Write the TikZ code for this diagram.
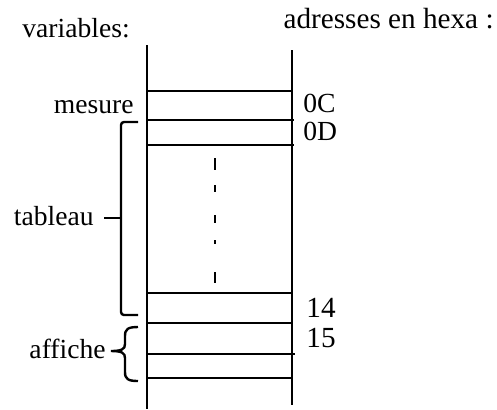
\documentclass[tikz,border=0pt]{standalone}
\usepackage{fontspec}
\setmainfont{Liberation Serif}
\begin{document}
\begin{tikzpicture}[x=0.5pt,y=-0.5pt,
  lbl/.style={inner sep=0pt,font=\fontsize{13.8}{16}\selectfont},
  biglbl/.style={inner sep=0pt,font=\fontsize{14.6}{17}\selectfont},
  wall/.style={line width=0.75pt},
  cell/.style={line width=0.75pt},
  brk/.style={line width=1.2pt},
  dots/.style={line width=0.75pt}]
\useasboundingbox (0,0) rectangle (497,409);
% titles
\node[lbl,anchor=base west] (vars) at (22,37) {variables:};
\node[biglbl,anchor=base east] (addr) at (494,28) {adresses en hexa :};
% memory column walls
\draw[wall] (147,45) -- (147,409);
\draw[wall] (292,50) -- (292,405);
% cell separators
\draw[cell] (147,91) -- (292,91);
\draw[cell] (147,120) -- (294,120);
\draw[cell] (147,145) -- (294,145);
\draw[cell] (147,293) -- (292,293);
\draw[cell] (147,323) -- (292,323);
\draw[cell] (147,354) -- (295,354);
\draw[cell] (147,378) -- (292,378);
% dashed ellipsis
\foreach \a/\b in {158/170,185/192,215/223,240/244,272/283}
  \draw[dots] (215,\a) -- (215,\b);
% labels
\node[lbl,anchor=base east] (mesure) at (134,113) {mesure};
\node[lbl,anchor=base west] (a0C) at (303,112) {0C};
\node[lbl,anchor=base west] (a0D) at (303,140) {0D};
\node[biglbl,anchor=base west] (a14) at (306,317) {14};
\node[biglbl,anchor=base west] (a15) at (306,347) {15};
\node[lbl,anchor=base east] (tableau) at (94,225) {tableau};
\node[lbl,anchor=base east] (affiche) at (106,358) {affiche};
% tableau bracket
\draw[brk] (138,122) -- (124,122) to[out=180,in=90] (121,125) -- (121,312) to[out=270,in=180] (124,315) -- (138,315);
\draw[brk] (104,218) -- (121,218);
% affiche brace
\draw[brk] (138,327) .. controls (128,327) and (125,329) .. (125,336)
  -- (125,344) .. controls (125,349) and (122,351) .. (111,351)
  .. controls (122,351) and (125,353) .. (125,358)
  -- (125,372) .. controls (125,379) and (128,381) .. (138,381);
\end{tikzpicture}
\end{document}
